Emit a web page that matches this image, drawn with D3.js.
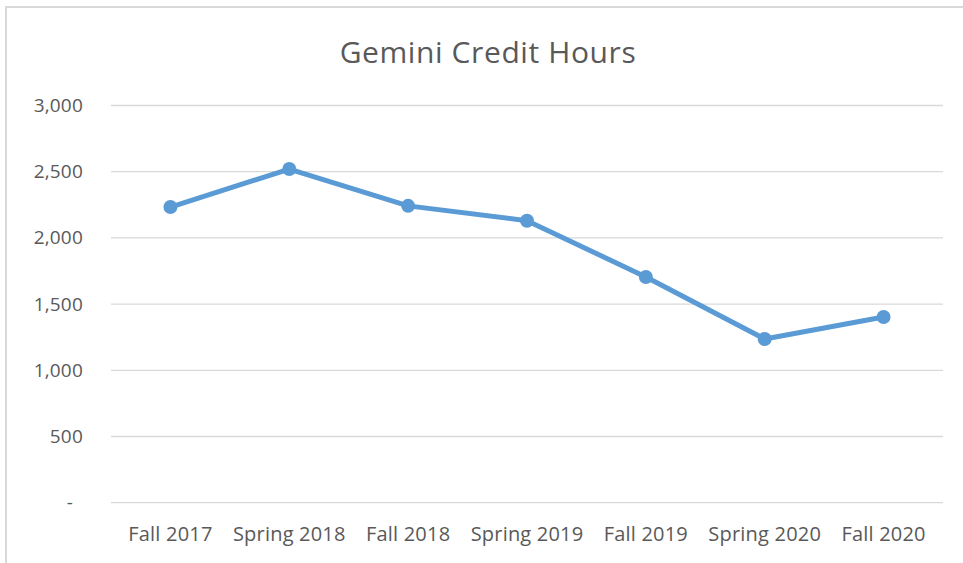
<!DOCTYPE html>
<html>
<head>
<meta charset="utf-8">
<script src="https://cdn.jsdelivr.net/npm/d3@7"></script>
<style>
  body { margin: 0; background: #fff; }
  text { font-family: "Open Sans", "Liberation Sans", sans-serif; fill: #595959; }
</style>
</head>
<body>
<svg id="chart" width="963" height="563"></svg>
<script>
var terms = ["Fall 2017", "Spring 2018", "Fall 2018", "Spring 2019", "Fall 2019", "Spring 2020", "Fall 2020"];
var creditHours = [2233, 2520, 2242, 2130, 1705, 1236, 1403];
var yTicks = [0, 500, 1000, 1500, 2000, 2500, 3000];

var svg = d3.select("#chart");

// outer chart frame (right/bottom fall outside the picture)
svg.append("rect")
    .attr("x", 6).attr("y", 7)
    .attr("width", 980).attr("height", 600)
    .attr("fill", "none")
    .attr("stroke", "#d9d9d9")
    .attr("stroke-width", 2);

var x = d3.scaleBand().domain(terms).range([111, 943]);
var y = d3.scaleLinear().domain([0, 3000]).range([502.7, 105.5]);

svg.append("text")
    .attr("x", 488).attr("y", 63)
    .attr("text-anchor", "middle")
    .style("font-size", "30px")
    .style("letter-spacing", "0.6px")
    .text("Gemini Credit Hours");

// gridlines
svg.append("g").selectAll("line")
    .data(yTicks)
    .join("line")
    .attr("x1", 111).attr("x2", 943)
    .attr("y1", function (d) { return y(d); })
    .attr("y2", function (d) { return y(d); })
    .attr("stroke", "#d9d9d9")
    .attr("stroke-width", 1.3);

var fmt = d3.format(",");
var yAxis = d3.axisLeft(y).tickValues(yTicks).tickSize(0).tickPadding(0)
    .tickFormat(function (d) { return d === 0 ? "-" : fmt(d); });
svg.append("g")
    .attr("transform", "translate(83,0)")
    .call(yAxis)
    .call(function (g) { g.select(".domain").remove(); })
    .selectAll("text")
    .style("font-size", "19px")
    .style("letter-spacing", "0.2px")
    .attr("fill", "#595959")
    .attr("dx", function (d) { return d === 0 ? "-10px" : 0; });

var xAxis = d3.axisBottom(x).tickSize(0).tickPadding(0);
svg.append("g")
    .attr("transform", "translate(0,534)")
    .call(xAxis)
    .call(function (g) { g.select(".domain").remove(); })
    .selectAll("text")
    .style("font-size", "20px")
    .style("letter-spacing", "0.2px")
    .attr("fill", "#595959")
    .attr("dy", "0.35em");

var cx = function (d, i) { return x(terms[i]) + x.bandwidth() / 2; };

var line = d3.line()
    .x(function (d, i) { return x(terms[i]) + x.bandwidth() / 2; })
    .y(function (d) { return y(d); });

svg.append("path")
    .datum(creditHours)
    .attr("d", line)
    .attr("fill", "none")
    .attr("stroke", "#5b9bd5")
    .attr("stroke-width", 5)
    .attr("stroke-linejoin", "round");

svg.append("g").selectAll("circle")
    .data(creditHours)
    .join("circle")
    .attr("cx", cx)
    .attr("cy", function (d) { return y(d); })
    .attr("r", 7)
    .attr("fill", "#5b9bd5");
</script>
</body>
</html>
